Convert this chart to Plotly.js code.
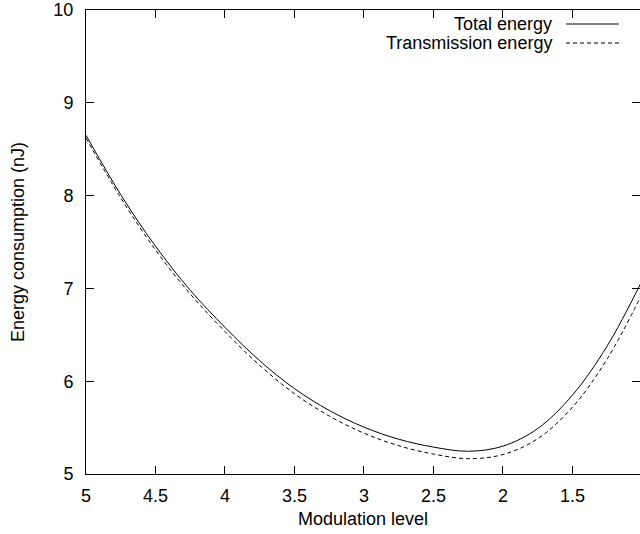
<!DOCTYPE html>
<html>
<head>
<meta charset="utf-8">
<script src="https://cdn.plot.ly/plotly-3.0.1.min.js"></script>
<style>html,body{margin:0;padding:0;background:#fff;}#chart{width:640px;height:534px;}</style>
</head>
<body>
<div id="chart"></div>
<script>
var modulation = [5.0, 4.75, 4.5, 4.25, 4.0, 3.75, 3.5, 3.25, 3.0, 2.75, 2.5, 2.25, 2.0, 1.75, 1.5, 1.25, 1.0];
var totalEnergy = [8.65, 8.01, 7.455, 6.98, 6.58, 6.22, 5.92, 5.685, 5.505, 5.375, 5.29, 5.245, 5.30, 5.49, 5.85, 6.38, 7.08];
var transmissionEnergy = [8.62, 7.975, 7.415, 6.94, 6.535, 6.17, 5.865, 5.625, 5.44, 5.305, 5.215, 5.165, 5.21, 5.38, 5.72, 6.24, 6.94];
var seriesNames = ["Total energy", "Transmission energy"];
var xTicks = [5, 4.5, 4, 3.5, 3, 2.5, 2, 1.5];
var yTicks = [5, 6, 7, 8, 9, 10];

var font = {family: "Liberation Sans, Arial, sans-serif", size: 18, color: "#000"};

var traces = [
  {x: modulation, y: totalEnergy, name: seriesNames[0], mode: "lines",
   line: {color: "#000", width: 1, shape: "spline", smoothing: 1.0}},
  {x: modulation, y: transmissionEnergy, name: seriesNames[1], mode: "lines",
   line: {color: "#000", width: 1, dash: "4px,3px", shape: "spline", smoothing: 1.0}}
];

var layout = {
  width: 640, height: 534,
  margin: {l: 86, r: 0, t: 10, b: 60},
  paper_bgcolor: "#fff", plot_bgcolor: "#fff",
  showlegend: false,
  font: font,
  xaxis: {
    range: [5, 1.014], tickvals: xTicks, ticktext: xTicks.map(String),
    ticks: "inside", ticklen: 8, tickcolor: "#000", tickwidth: 1,
    showline: true, linecolor: "#000", linewidth: 1, mirror: "ticks",
    showgrid: false, zeroline: false, tickfont: font, ticklabelstandoff: 5,
    title: {text: "Modulation level", font: font, standoff: 7}
  },
  yaxis: {
    range: [5, 10], tickvals: yTicks, ticktext: yTicks.map(String),
    ticks: "inside", ticklen: 8, tickcolor: "#000", tickwidth: 1,
    showline: true, linecolor: "#000", linewidth: 1, mirror: "ticks",
    showgrid: false, zeroline: false, tickfont: font, ticklabelstandoff: 8,
    title: {text: "Energy consumption (nJ)", font: font, standoff: 24}
  },
  annotations: [
    {xref: "paper", yref: "paper", x: (554 - 86) / 554, y: 1 - (24 - 10) / 464, xanchor: "right", yanchor: "middle",
     text: seriesNames[0], showarrow: false, font: font},
    {xref: "paper", yref: "paper", x: (554 - 86) / 554, y: 1 - (43 - 10) / 464, xanchor: "right", yanchor: "middle",
     text: seriesNames[1], showarrow: false, font: font}
  ],
  shapes: [
    {type: "line", xref: "paper", yref: "paper", x0: (566 - 86) / 554, x1: (619 - 86) / 554,
     y0: 1 - (24 - 10) / 464, y1: 1 - (24 - 10) / 464, line: {color: "#000", width: 1}},
    {type: "line", xref: "paper", yref: "paper", x0: (566 - 86) / 554, x1: (619 - 86) / 554,
     y0: 1 - (43 - 10) / 464, y1: 1 - (43 - 10) / 464, line: {color: "#000", width: 1, dash: "4px,3px"}}
  ]
};

Plotly.newPlot("chart", traces, layout, {staticPlot: true, displayModeBar: false});
</script>
</body>
</html>
